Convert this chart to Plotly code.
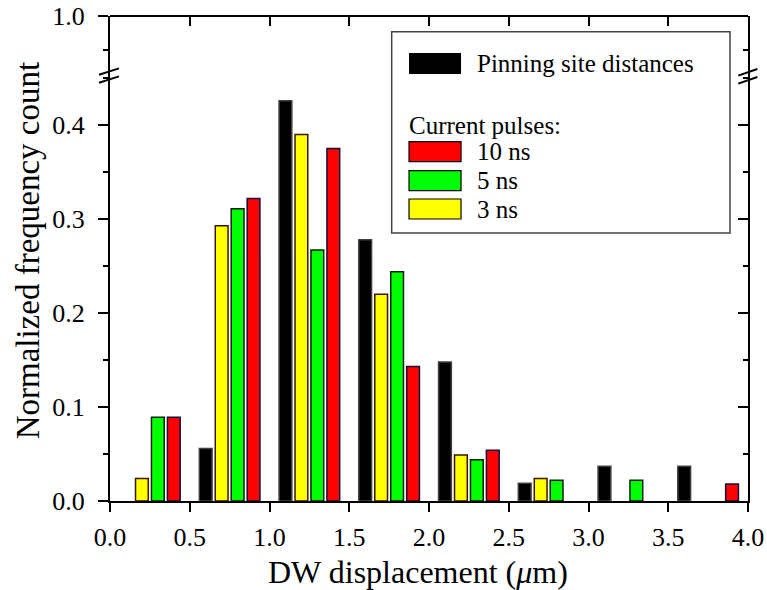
import plotly.graph_objects as go

# ---- data ----
pin_x = [0.6, 1.1, 1.6, 2.1, 2.6, 3.1, 3.6]
pin_y = [0.056, 0.426, 0.278, 0.148, 0.019, 0.037, 0.037]

ns3_x = [0.2, 0.7, 1.2, 1.7, 2.2, 2.7]
ns3_y = [0.024, 0.293, 0.390, 0.220, 0.049, 0.024]

ns5_x = [0.3, 0.8, 1.3, 1.8, 2.3, 2.8, 3.3]
ns5_y = [0.089, 0.311, 0.267, 0.244, 0.044, 0.022, 0.022]

ns10_x = [0.4, 0.9, 1.4, 1.9, 2.4, 3.9]
ns10_y = [0.089, 0.322, 0.375, 0.143, 0.054, 0.018]

x_ticks = [0.0, 0.5, 1.0, 1.5, 2.0, 2.5, 3.0, 3.5, 4.0]
x_ticktext = ["0.0", "0.5", "1.0", "1.5", "2.0", "2.5", "3.0", "3.5", "4.0"]
y_ticks = [0.0, 0.1, 0.2, 0.3, 0.4]
y_ticktext = ["0.0", "0.1", "0.2", "0.3", "0.4"]

legend_names = ["Pinning site distances", "10 ns", "5 ns", "3 ns"]
legend_colors = ["#000000", "#ff0000", "#00ff00", "#ffff00"]

FONT = "Liberation Serif"
BAR_W = 0.08

fig = go.Figure()
series = [
    (ns3_x, ns3_y, "#ffff00", "#3a1400", "3 ns"),
    (ns5_x, ns5_y, "#00ff00", "#002000", "5 ns"),
    (ns10_x, ns10_y, "#ff0000", "#101040", "10 ns"),
    (pin_x, pin_y, "#000000", "#404040", "Pinning site distances"),
]
for xs, ys, col, lcol, name in series:
    fig.add_trace(go.Bar(x=xs, y=ys, width=BAR_W, name=name,
                         marker=dict(color=col, line=dict(color=lcol, width=1.5)),
                         showlegend=False))

# empty helper traces so that the frame axes are drawn
for xa, ya in [("x", "y3"), ("x", "y2"), ("x", "y4"), ("x2", "y")]:
    fig.add_trace(go.Scatter(x=[None], y=[None], xaxis=xa, yaxis=ya, mode="markers",
                             showlegend=False, hoverinfo="skip"))

SPLIT = 0.8835
tickfont = dict(family=FONT, size=26, color="black")
common = dict(showgrid=False, zeroline=False, automargin=False,
              showline=True, linewidth=2, linecolor="black",
              tickwidth=1.5, tickcolor="black")

fig.update_layout(
    width=767, height=590,
    margin=dict(l=110, r=19, t=16, b=89),
    paper_bgcolor="white", plot_bgcolor="white",
    barmode="overlay",
    showlegend=False,
    xaxis=dict(range=[0, 4], tickvals=x_ticks, ticktext=x_ticktext,
               ticks="outside", ticklen=9, tickfont=tickfont,
               anchor="y", ticklabelstandoff=3, **common),
    xaxis2=dict(range=[0, 4], tickvals=x_ticks, showticklabels=False,
                ticks="inside", ticklen=9,
                overlaying="x", side="top", anchor="free", position=1.0, **common),
    yaxis=dict(domain=[0, SPLIT], range=[0, 0.456], tickvals=y_ticks, ticktext=y_ticktext,
               ticks="outside", ticklen=10,
               minor=dict(dtick=0.05, ticks="outside", ticklen=5, tickwidth=1.5, tickcolor="black"),
               tickfont=tickfont, anchor="x", ticklabelstandoff=8, **common),
    yaxis2=dict(range=[0, 0.456], tickvals=y_ticks, showticklabels=False,
                ticks="inside", ticklen=10,
                minor=dict(dtick=0.05, ticks="inside", ticklen=5, tickwidth=1.5, tickcolor="black"),
                overlaying="y", side="right", anchor="x", **common),
    yaxis3=dict(domain=[SPLIT, 1], range=[0.9, 1.0], tickvals=[1.0], ticktext=["1.0"],
                ticks="outside", ticklen=10,
                minor=dict(tickvals=[0.94], ticks="outside", ticklen=5, tickwidth=1.5, tickcolor="black"),
                tickfont=tickfont, anchor="x", ticklabelstandoff=8, **common),
    yaxis4=dict(range=[0.9, 1.0], tickvals=[1.0], showticklabels=False,
                ticks="inside", ticklen=10,
                minor=dict(tickvals=[0.94], ticks="inside", ticklen=5, tickwidth=1.5, tickcolor="black"),
                overlaying="y3", side="right", anchor="x", **common),
)

shapes = []
annotations = []

# axis break marks
for (x0, x1, ya0, ya1) in [(-0.0172, 0.0141, 0.879, 0.892), (0.9848, 1.0146, 0.877, 0.8907)]:
    for dy in (0.0, -0.0165):
        shapes.append(dict(type="line", xref="paper", yref="paper",
                           x0=x0, x1=x1, y0=ya0 + dy, y1=ya1 + dy,
                           line=dict(color="black", width=2)))

# legend box
shapes.append(dict(type="rect", xref="paper", yref="paper",
                   x0=0.4415, x1=0.9718, y0=0.5526, y1=0.9676,
                   line=dict(color="#444444", width=1.5), fillcolor="white", layer="above"))

sw_x0, sw_x1 = 0.4687, 0.5502
text_x = 0.572
sw_rows = [(0.8804, 0.9237, 0.902), (0.6996, 0.7408, 0.7206),
           (0.6398, 0.681, 0.6608), (0.5814, 0.6227, 0.602)]
for name, col, (y0, y1, yc) in zip(legend_names, legend_colors, sw_rows):
    shapes.append(dict(type="rect", xref="paper", yref="paper",
                       x0=sw_x0, x1=sw_x1, y0=y0, y1=y1,
                       line=dict(color="black", width=1.2 if col != "#000000" else 0),
                       fillcolor=col, layer="above"))
    annotations.append(dict(text=name, xref="paper", yref="paper", x=text_x, y=yc,
                            xanchor="left", yanchor="middle", showarrow=False,
                            font=dict(family=FONT, size=25, color="black")))

annotations.append(dict(text="Current pulses:", xref="paper", yref="paper", x=0.466, y=0.775,
                        xanchor="left", yanchor="middle", showarrow=False,
                        font=dict(family=FONT, size=25, color="black")))

# axis titles
annotations.append(dict(text="DW displacement (<i>μ</i>m)", xref="paper", yref="paper",
                        x=0.482, y=-0.146, xanchor="center", yanchor="middle", showarrow=False,
                        font=dict(family=FONT, size=32, color="black")))
annotations.append(dict(text="Normalized frequency count", xref="paper", yref="paper",
                        x=-0.128, y=0.5175, xanchor="center", yanchor="middle", showarrow=False,
                        textangle=-90, font=dict(family=FONT, size=33, color="black")))

fig.update_layout(shapes=shapes, annotations=annotations)
fig.write_html("out.html", config={"displayModeBar": False},
               post_script="document.body.style.margin='0px';document.body.style.overflow='hidden';")
